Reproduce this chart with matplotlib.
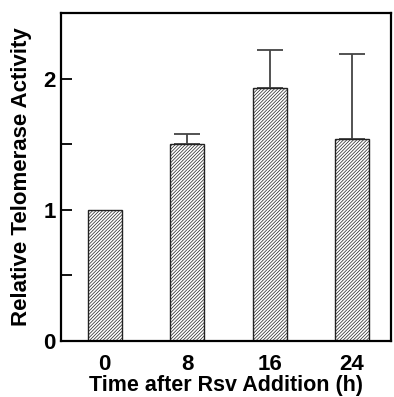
import matplotlib
matplotlib.use("Agg")
import matplotlib.pyplot as plt
import numpy as np

# datos
tiempos = ['0', '8', '16', '24']
actividad = [1.00, 1.50, 1.93, 1.54]
error_sup = [0.00, 0.08, 0.29, 0.65]

plt.rcParams['font.family'] = ['Liberation Sans', 'DejaVu Sans']
plt.rcParams['font.weight'] = 'bold'
plt.rcParams['hatch.color'] = '#707070'
plt.rcParams['hatch.linewidth'] = 0.5

fig = plt.figure(figsize=(3.94, 3.97), dpi=100)
ax = fig.add_axes([0.155, 0.141, 0.837, 0.826])

x = np.arange(len(tiempos))
ax.bar(x, actividad, width=0.41, color='white', edgecolor='#222222',
       linewidth=1.0, hatch='//////////', zorder=2)

# la barra de 0 h no tiene barra de error
con_error = [i for i in range(len(x)) if error_sup[i] > 0]
ax.errorbar(x[con_error], [actividad[i] for i in con_error],
            yerr=[np.zeros(len(con_error)), [error_sup[i] for i in con_error]],
            fmt='none', ecolor='#444444', elinewidth=1.3, capsize=9.5,
            capthick=1.3, zorder=1)

ax.set_xlim(-0.53, 3.47)
ax.set_ylim(0, 2.5)
ax.set_yticks([0, 1, 2])
ax.set_yticks([0.5, 1.5], minor=True)
ax.set_xticks(x)
ax.set_xticklabels(tiempos, fontsize=16, fontweight='bold')
ax.set_yticklabels(['0', '1', '2'], fontsize=16, fontweight='bold')
ax.tick_params(axis='x', length=0, pad=9)
ax.tick_params(axis='y', which='both', direction='in', length=8, width=1.3, pad=4)

for s in ax.spines.values():
    s.set_linewidth(1.6)

ax.set_xlabel('Time after Rsv Addition (h)', fontsize=15.5, fontweight='bold', labelpad=0)
ax.set_ylabel('Relative Telomerase Activity', fontsize=16, fontweight='bold', labelpad=8)

fig.savefig('out.png', dpi=100)
